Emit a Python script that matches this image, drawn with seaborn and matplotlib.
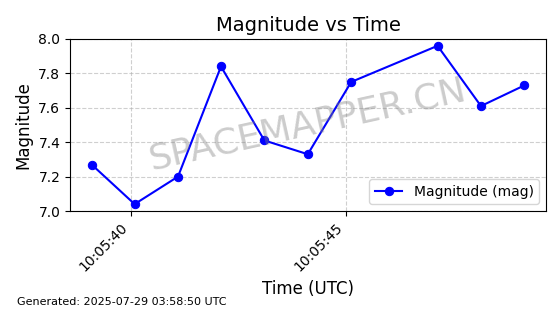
import matplotlib
matplotlib.use("Agg")
import matplotlib.pyplot as plt
import matplotlib.dates as mdates
import seaborn as sns
import pandas as pd

times = ["2025-07-29 10:05:39.09", "2025-07-29 10:05:40.09", "2025-07-29 10:05:41.10",
         "2025-07-29 10:05:42.10", "2025-07-29 10:05:43.11", "2025-07-29 10:05:44.12",
         "2025-07-29 10:05:45.13", "2025-07-29 10:05:47.14", "2025-07-29 10:05:48.15",
         "2025-07-29 10:05:49.16"]
magnitudes = [7.27, 7.04, 7.20, 7.84, 7.41, 7.33, 7.75, 7.96, 7.61, 7.73]
series_label = "Magnitude (mag)"

df = pd.DataFrame({"time": pd.to_datetime(times), "mag": magnitudes})

fig, ax = plt.subplots(figsize=(5.6, 3.14), dpi=100)
fig.subplots_adjust(left=0.125, right=0.975, top=0.876, bottom=0.328)

sns.lineplot(data=df, x="time", y="mag", ax=ax, color="blue", marker="o",
             markersize=6, markeredgecolor="blue", linewidth=1.5, label=series_label)

ax.set_ylim(7.0, 8.0)
ax.set_yticks([7.0, 7.2, 7.4, 7.6, 7.8, 8.0])
ax.xaxis.set_major_locator(mdates.SecondLocator(bysecond=[0, 5, 10, 15, 20, 25, 30, 35, 40, 45, 50, 55]))
ax.xaxis.set_major_formatter(mdates.DateFormatter("%H:%M:%S"))
plt.setp(ax.get_xticklabels(), rotation=45, ha="right")
ax.grid(True, linestyle="--", alpha=0.6)

ax.set_title("Magnitude vs Time", fontsize=14)
ax.set_xlabel("Time (UTC)", fontsize=12)
ax.set_ylabel("Magnitude", fontsize=12)
ax.legend(loc="lower right")

ax.text(0.5, 0.5, "SPACEMAPPER.CN", transform=ax.transAxes, fontsize=26,
        color="gray", alpha=0.4, rotation=12.5, ha="center", va="center")

fig.text(17 / 560, 1 - 305 / 314, "Generated: 2025-07-29 03:58:50 UTC", fontsize=8,
         ha="left", va="baseline")

fig.savefig("out.png", dpi=100)
